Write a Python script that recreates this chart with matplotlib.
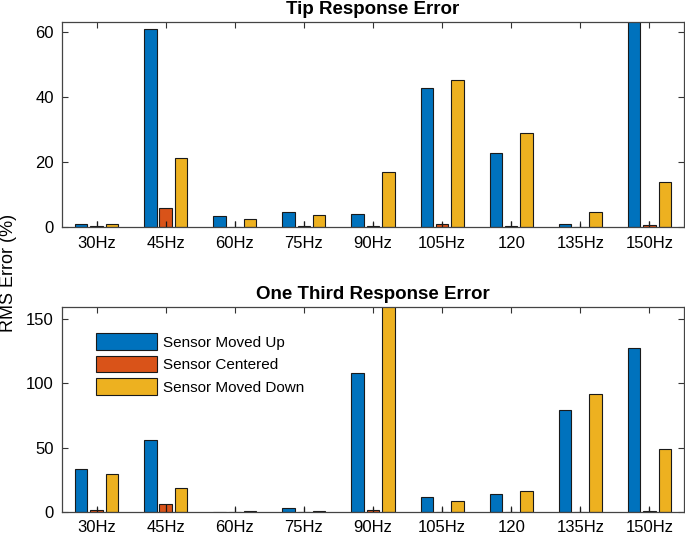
import matplotlib
matplotlib.use("Agg")
import matplotlib.pyplot as plt
import numpy as np

plt.rcParams["font.family"] = ["Liberation Sans", "DejaVu Sans"]

categories = ["30Hz", "45Hz", "60Hz", "75Hz", "90Hz", "105Hz", "120", "135Hz", "150Hz"]
series_names = ["Sensor Moved Up", "Sensor Centered", "Sensor Moved Down"]

tip_up = [1.0, 61.1, 3.5, 4.8, 4.1, 42.8, 23.0, 1.0, 70.0]
tip_center = [0.3, 5.9, 0.2, 0.3, 0.5, 0.9, 0.5, 0.1, 0.7]
tip_down = [1.1, 21.4, 2.5, 3.8, 16.9, 45.2, 29.0, 4.8, 13.9]
tip_spread = [1.9, 2.0, 1.8, 1.8, 1.6, 1.6, 1.8, 1.4, 1.8]

third_up = [33.4, 56.0, 0.3, 2.8, 108.0, 11.9, 14.2, 79.5, 127.2]
third_center = [1.3, 6.2, 0.1, 0.1, 1.8, 0.0, 0.0, 0.2, 0.8]
third_down = [29.5, 18.7, 0.6, 0.4, 170.0, 8.5, 16.0, 91.7, 49.2]
third_spread = [4.0, 6.0, 4.0, 4.0, 4.0, 4.0, 4.0, 4.0, 4.0]

colors = ["#0072BD", "#D95319", "#EDB120"]

W, H = 685, 536
fig = plt.figure(figsize=(6.85, 5.36), dpi=100)
ax1 = fig.add_axes([62/W, 1-227.3/H, 622/W, 205.6/H])
ax2 = fig.add_axes([62/W, 1-512/H, 622/W, 205.3/H])

x = np.arange(1, len(categories) + 1)
offs = [-0.222, 0.0, 0.222]
w = 0.18

def draw(ax, series, spread, title, ylim, yticks):
    for vals, off, c, nm in zip(series, offs, colors, series_names):
        ax.bar(x + off, vals, width=w, color=c, edgecolor="#1a1a1a", linewidth=0.8, label=nm, zorder=2)
    ax.vlines(x, 0, spread, color="#1a1a1a", linewidth=0.9, zorder=3)
    ax.set_xlim(0.5, 9.5)
    ax.set_ylim(*ylim)
    ax.set_xticks(x)
    ax.set_xticklabels(categories, fontsize=12)
    ax.set_yticks(yticks)
    ax.tick_params(axis="both", direction="in", top=True, right=True, labelsize=12,
                   length=4, width=0.8, color="#333333", pad=6)
    for sp in ax.spines.values():
        sp.set_color("#444444")
        sp.set_linewidth(0.9)
    ax.set_title(title, fontsize=13.5, fontweight="bold", pad=5.8)

draw(ax1, [tip_up, tip_center, tip_down], tip_spread, "Tip Response Error", (0, 63.3), [0, 20, 40, 60])
draw(ax2, [third_up, third_center, third_down], third_spread, "One Third Response Error", (0, 159.6), [0, 50, 100, 150])

leg = ax2.legend(loc="upper left", bbox_to_anchor=(0.04, 0.915), frameon=False, fontsize=11,
                 handlelength=4.0, handleheight=1.3, labelspacing=0.38, handletextpad=0.4,
                 borderaxespad=0.2)

fig.text(0.013, 0.49, "RMS Error (%)", rotation=90, va="center", ha="center", fontsize=13)

fig.savefig("out.png", dpi=100)
